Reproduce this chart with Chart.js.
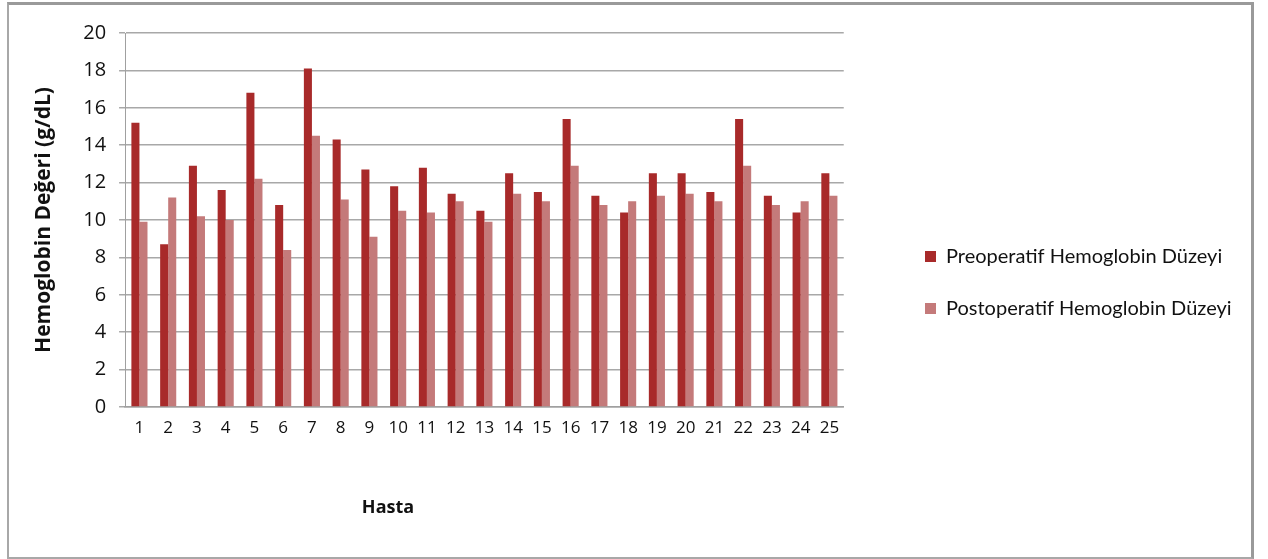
<!DOCTYPE html>
<html>
<head>
<meta charset="utf-8">
<script src="https://cdn.jsdelivr.net/npm/chart.js@4.4.0/dist/chart.umd.min.js"></script>
<style>
  html, body { margin: 0; padding: 0; background: #fff; }
  #frame {
    position: absolute; left: 7px; top: 2px; width: 1242px; height: 552px;
    border-top: 3px solid #9a9a9a; border-right: 3px solid #9a9a9a;
    border-left: 2px solid #a8a8a8; border-bottom: 2px solid #a8a8a8;
  }
  #wrap { position: absolute; left: 0; top: 0; width: 1268px; height: 559px; }
</style>
</head>
<body>
<div id="frame"></div>
<div id="wrap"><canvas id="grafik" width="1268" height="559"></canvas></div>
<script>
const hastalar = ["1","2","3","4","5","6","7","8","9","10","11","12","13","14","15","16","17","18","19","20","21","22","23","24","25"];
const preop = [15.2, 8.7, 12.9, 11.6, 16.8, 10.8, 18.1, 14.3, 12.7, 11.8, 12.8, 11.4, 10.5, 12.5, 11.5, 15.4, 11.3, 10.4, 12.5, 12.5, 11.5, 15.4, 11.3, 10.4, 12.5];
const postop = [9.9, 11.2, 10.2, 10.0, 12.2, 8.4, 14.5, 11.1, 9.1, 10.5, 10.4, 11.0, 9.9, 11.4, 11.0, 12.9, 10.8, 11.0, 11.3, 11.4, 11.0, 12.9, 10.8, 11.0, 11.3];
const yTicks = [0, 2, 4, 6, 8, 10, 12, 14, 16, 18, 20];

const yazi = "'Open Sans', sans-serif";

// legend sağa, "Hasta" başlığı sola kaydırılıyor (orijinaldeki gibi)
const yerlesim = {
  id: "yerlesim",
  afterLayout(chart) {
    const lg = chart.legend;
    if (lg) {
      lg.left = 925 - 32;
      lg.right = 1250;
      lg.top = 36;
      lg.bottom = 529;
    }
    const t = chart.titleBlock;
    if (t) {
      t.left = 300; t.right = 476;
      t.top = 497; t.bottom = 519;
    }
  }
};

const ctx = document.getElementById("grafik");

new Chart(ctx, {
  type: "bar",
  data: {
    labels: hastalar,
    datasets: [
      {
        label: "Preoperatif Hemoglobin Düzeyi",
        data: preop,
        backgroundColor: "#a82a2a",
        borderWidth: 0
      },
      {
        label: "Postoperatif Hemoglobin Düzeyi",
        data: postop,
        backgroundColor: "#c47a7a",
        borderWidth: 0
      }
    ]
  },
  options: {
    responsive: false,
    animation: false,
    devicePixelRatio: 1,
    categoryPercentage: 0.56,
    barPercentage: 1.0,
    layout: { padding: { left: 27, right: 152, top: 33, bottom: 88 } },
    scales: {
      x: {
        grid: { display: false, drawTicks: false },
        border: { color: "#a0a0a0", width: 1.5 },
        ticks: { color: "#111", font: { family: yazi, size: 17 }, padding: 11, maxRotation: 0, autoSkip: false }
      },
      y: {
        min: 0, max: 20,
        afterBuildTicks(axis) { axis.ticks = yTicks.map(v => ({ value: v })); },
        grid: { color: "#a8a8a8", lineWidth: 1.5, tickLength: 6 },
        border: { color: "#a0a0a0", width: 1 },
        ticks: { color: "#111", font: { family: yazi, size: 20 }, padding: 13 },
        title: {
          display: true, text: "Hemoglobin Değeri (g/dL)", color: "#111",
          font: { family: yazi, size: 21, weight: "bold" },
          padding: { bottom: 14 }
        }
      }
    },
    plugins: {
      title: {
        display: true, position: "bottom", text: "Hasta", color: "#111",
        font: { family: yazi, size: 18, weight: "bold" },
        padding: 0
      },
      legend: {
        position: "right",
        align: "center",
        labels: {
          color: "#111",
          font: { family: "Lato, 'Open Sans', sans-serif", size: 20 },
          boxWidth: 11, boxHeight: 11,
          padding: 32
        }
      },
      tooltip: { enabled: false }
    }
  },
  plugins: [yerlesim]
});
</script>
</body>
</html>
